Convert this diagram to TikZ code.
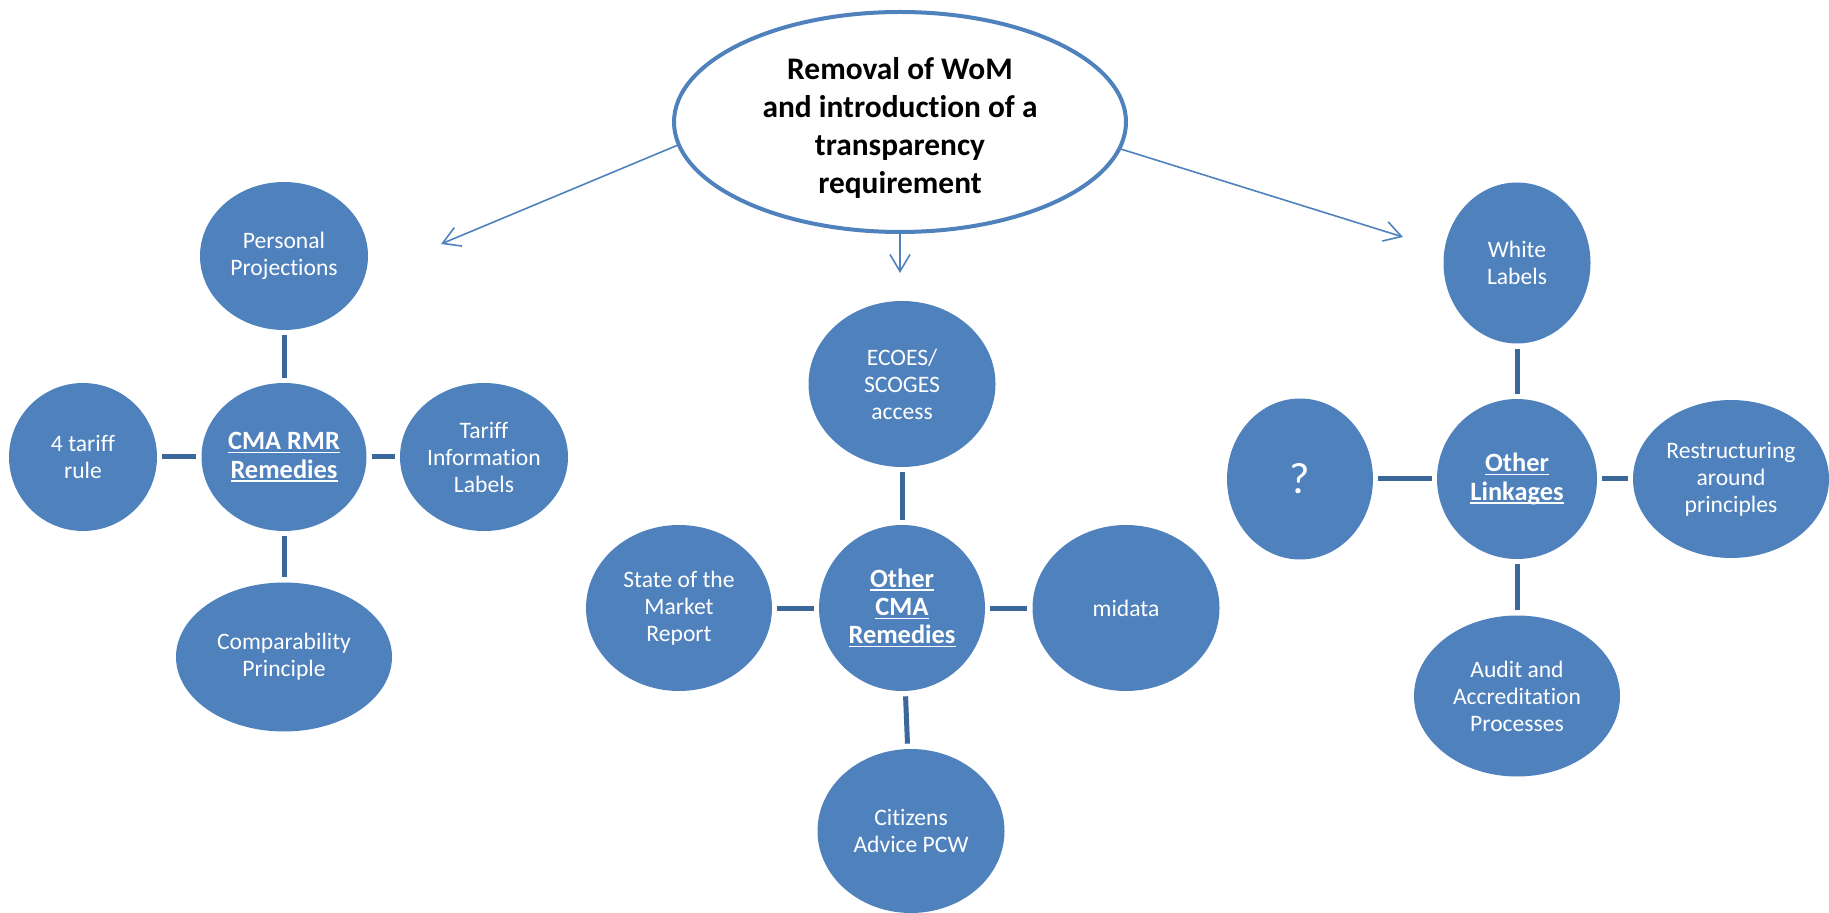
\documentclass[tikz,border=0pt]{standalone}
\usepackage{fontspec}
\setmainfont{Carlito}[Ligatures=NoCommon]
\usetikzlibrary{shapes.geometric,arrows.meta}
\definecolor{bubfill}{HTML}{4F81BD}
\definecolor{linkcol}{HTML}{3C679A}
\newcommand\myul[1]{\setbox0\hbox{#1}\rlap{\rule[-1.8pt]{\wd0}{0.7pt}}\box0}
\begin{document}
\begin{tikzpicture}[x=0.5pt,y=-0.5pt,
  bub/.style={ellipse, fill=bubfill, inner sep=0pt, text=white, align=center,
    font=\fontsize{11.8}{13.5}\selectfont},
  hub/.style={bub, font=\fontsize{13.2}{14.2}\selectfont\bfseries},
  link/.style={draw=linkcol, line width=2.5pt, shorten <=2.5pt, shorten >=2.5pt},
  arr/.style={draw=bubfill, line width=0.8pt, -{Straight Barb[length=8.5pt,width=10pt]}}]
\useasboundingbox (0,0) rectangle (1829,913);

% central topic
\node[ellipse, draw=bubfill, line width=2pt, fill=white, inner sep=0pt,
  minimum width=226pt, minimum height=110pt,
  font=\fontsize{15.7}{19}\selectfont\bfseries] (top) at (900,122)
  {\raisebox{-3.5pt}[\height][\depth]{\begin{tabular}{@{}c@{}}Removal of WoM\\and introduction of a\\transparency\\requirement\end{tabular}}};

% left cluster
\node[hub, minimum width=82.5pt, minimum height=74pt] (cma) at (284,457) {\myul{CMA RMR}\\\myul{Remedies}};
\node[bub, minimum width=84pt, minimum height=74pt] (pp) at (284,256) {Personal\\Projections};
\node[bub, minimum width=74pt, minimum height=74pt] (four) at (83,457) {4 tariff\\rule};
\node[bub, minimum width=84pt, minimum height=74pt] (til) at (484,457) {Tariff\\Information\\Labels};
\node[bub, minimum width=108pt, minimum height=74.5pt] (comp) at (284,657) {Comparability\\Principle};

% middle cluster
\node[hub, minimum width=83pt, minimum height=83pt] (ocma) at (902,608) {\myul{Other}\\\myul{CMA}\\\myul{Remedies}};
\node[bub, minimum width=93.5pt, minimum height=83pt] (ecoes) at (902,384) {ECOES/\\SCOGES\\access};
\node[bub, minimum width=93pt, minimum height=83pt] (state) at (679,608) {State of the\\Market\\Report};
\node[bub, minimum width=93.5pt, minimum height=83pt] (midata) at (1126,608) {midata};
\node[bub, minimum width=93.5pt, minimum height=82pt] (cit) at (911,831) {Citizens\\Advice PCW};

% right cluster
\node[hub, minimum width=80pt, minimum height=80pt] (ol) at (1517,479) {\myul{Other}\\\myul{Linkages}};
\node[bub, minimum width=73.5pt, minimum height=80.5pt] (white) at (1517,263) {White\\Labels};
\node[bub, minimum width=73pt, minimum height=80.5pt, font=\fontsize{22}{24}\selectfont] (q) at (1300,479) {?};
\node[bub, minimum width=98pt, minimum height=79pt] (restr) at (1731,479) {Restructuring\\around\\principles};
\node[bub, minimum width=103pt, minimum height=80.5pt] (audit) at (1517,696) {Audit and\\Accreditation\\Processes};

% arrows from the central topic
\coordinate (tl) at (441,244);
\coordinate (tm) at (900,273);
\coordinate (tr) at (1403,237);
\draw[arr] (top.186.4) -- (tl);
\draw[arr] (top.south) -- (tm);
\draw[arr] (top.353.3) -- (tr);

% connectors
\draw[link] (pp) -- (cma);
\draw[link] (four) -- (cma);
\draw[link] (cma) -- (til);
\draw[link] (cma) -- (comp);
\draw[link] (ecoes) -- (ocma);
\draw[link] (state) -- (ocma);
\draw[link] (ocma) -- (midata);
\draw[link] (ocma) -- (cit);
\draw[link] (white) -- (ol);
\draw[link] (q) -- (ol);
\draw[link] (ol) -- (restr);
\draw[link] (ol) -- (audit);
\end{tikzpicture}
\end{document}
